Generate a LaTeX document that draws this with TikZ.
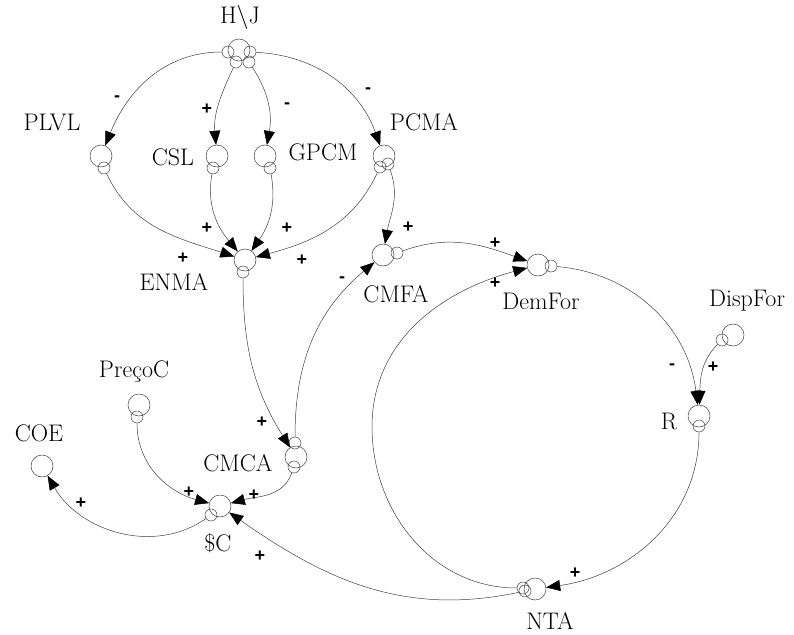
\documentclass[tikz,border=0pt]{standalone}
\usepackage{fontspec}
\usetikzlibrary{arrows.meta}
\newfontfamily\signfont{Liberation Sans}
\begin{document}
\begin{tikzpicture}[x=1pt,y=1pt,
  var/.style={circle,draw=black!75,line width=0.5pt,minimum size=22pt,inner sep=0pt},
  tail/.style={circle,draw=black!75,line width=0.5pt,minimum size=12pt,inner sep=0pt},
  lbl/.style={font=\fontsize{24}{24}\selectfont,inner sep=0pt},
  sgn/.style={font=\signfont\bfseries\fontsize{18}{18}\selectfont,inner sep=0pt},
  link/.style={draw=black!75,line width=0.5pt,-{Triangle[length=14pt,width=11pt,color=black]}},
]
\useasboundingbox (0,0) rectangle (794,-634);
% main variables
\node[var] (HJ) at (239,-50) {};
\node[var] (PLVL) at (101,-156) {};
\node[var] (CSL) at (217,-156) {};
\node[var] (GPCM) at (265,-156) {};
\node[var] (PCMA) at (384,-156) {};
\node[var] (ENMA) at (245,-260) {};
\node[var] (CMFA) at (383,-255) {};
\node[var] (DemFor) at (538,-265) {};
\node[var] (DispFor) at (733,-335) {};
\node[var] (R) at (699,-416) {};
\node[var] (PrecoC) at (139,-405) {};
\node[var] (COE) at (42,-466) {};
\node[var] (CMCA) at (296,-457) {};
\node[var] (SC) at (220,-506) {};
\node[var] (NTA) at (535,-589) {};
% tails
\node[tail] (HJa) at (228,-52) {};
\node[tail] (HJb) at (250,-52) {};
\node[tail] (HJc) at (236,-62) {};
\node[tail] (HJd) at (249,-62) {};
\node[tail] (PLVLs) at (104,-168) {};
\node[tail] (CSLs) at (213,-168) {};
\node[tail] (GPCMs) at (270,-168) {};
\node[tail] (PCMAa) at (380,-167) {};
\node[tail] (PCMAb) at (388,-164) {};
\node[tail] (ENMAs) at (243,-272) {};
\node[tail] (CMFAs) at (397,-253) {};
\node[tail] (DemFors) at (551,-266) {};
\node[tail] (DispFors) at (722,-340) {};
\node[tail] (Rs) at (699,-426) {};
\node[tail] (PrecoCs) at (137,-417) {};
\node[tail] (CMCAa) at (295,-443) {};
\node[tail] (CMCAb) at (294,-467) {};
\node[tail] (SCs) at (211,-515) {};
\node[tail] (NTAa) at (523,-588) {};
\node[tail] (NTAb) at (525,-591) {};
\coordinate (Loop) at (372,-427);
% labels
\node[lbl] (tHJ) at (240,-18) {H\textbackslash J};
\node[lbl] (tPLVL) at (52,-122) {PLVL};
\node[lbl] (tCSL) at (173,-157) {CSL};
\node[lbl] (tGPCM) at (323,-152) {GPCM};
\node[lbl] (tPCMA) at (424,-122) {PCMA};
\node[lbl] (tENMA) at (174,-282) {ENMA};
\node[lbl] (tCMFA) at (396,-294) {CMFA};
\node[lbl] (tDemFor) at (541,-301) {DemFor};
\node[lbl] (tDispFor) at (747,-301) {DispFor};
\node[lbl] (tR) at (669,-421) {R};
\node[lbl] (tPrecoC) at (134,-372) {PreçoC};
\node[lbl] (tCOE) at (39,-433) {COE};
\node[lbl] (tCMCA) at (238,-463) {CMCA};
\node[lbl] (tSC) at (218,-543) {\$C};
\node[lbl] (tNTA) at (550,-621) {NTA};
% links
\draw[link] (HJa) to[out=180,in=68] (PLVL);
\draw[link] (HJc) to[out=245,in=95] (CSL);
\draw[link] (HJd) to[out=-57,in=80] (GPCM);
\draw[link] (HJb) to[out=-3,in=110] (PCMA);
\draw[link] (PLVLs) to[out=-65,in=162] (ENMA);
\draw[link] (CSLs) to[out=-100,in=130] (ENMA);
\draw[link] (GPCMs) to[out=-80,in=55] (ENMA);
\draw[link] (PCMAa) to[out=-115,in=15] (ENMA);
\draw[link] (PCMAb) to[out=-70,in=80] (CMFA);
\draw[link] (ENMAs) to[out=-90,in=122] (CMCA);
\draw[link] (CMCAa) to[out=90,in=220] (CMFA);
\draw[link] (CMFAs) to[out=20,in=160] (DemFor);
\draw[link] (NTAa) to[out=180,in=-90] (Loop) to[out=90,in=195] (DemFor);
\draw[link] (DemFors) to[out=-5,in=97] (R);
\draw[link] (DispFors) to[out=225,in=88] (R);
\draw[link] (Rs) to[out=-90,in=8] (NTA);
\draw[link] (NTAb) to[out=192,in=-35] (SC);
\draw[link] (CMCAb) to[out=-110,in=15] (SC);
\draw[link] (PrecoCs) to[out=-90,in=165] (SC);
\draw[link] (SCs) to[out=215,in=-60] (COE);
% polarities
\node[sgn] (p1) at (117,-99) {-};
\node[sgn] (p2) at (207,-109) {+};
\node[sgn] (p3) at (287,-106) {-};
\node[sgn] (p4) at (368,-91) {-};
\node[sgn] (p5) at (183,-258) {+};
\node[sgn] (p6) at (207,-228) {+};
\node[sgn] (p7) at (287,-228) {+};
\node[sgn] (p8) at (302,-260) {+};
\node[sgn] (p9) at (408,-227) {+};
\node[sgn] (p10) at (262,-422) {+};
\node[sgn] (p11) at (342,-280) {-};
\node[sgn] (p12) at (495,-243) {+};
\node[sgn] (p13) at (495,-283) {+};
\node[sgn] (p14) at (672,-367) {-};
\node[sgn] (p15) at (713,-367) {+};
\node[sgn] (p16) at (575,-573) {+};
\node[sgn] (p17) at (260,-556) {+};
\node[sgn] (p18) at (254,-495) {+};
\node[sgn] (p19) at (189,-492) {+};
\node[sgn] (p20) at (81,-503) {+};
\end{tikzpicture}
\end{document}
